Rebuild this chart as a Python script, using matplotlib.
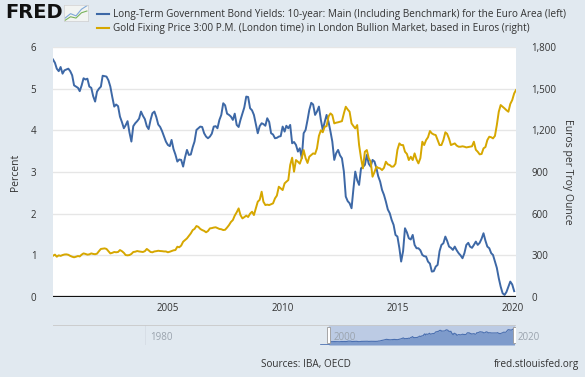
import numpy as np
import pandas as pd
import matplotlib
matplotlib.use("Agg")
import matplotlib.pyplot as plt
import matplotlib.dates as mdates
from matplotlib.patches import Rectangle

plt.rcParams['font.family'] = ['Open Sans', 'DejaVu Sans']

# monthly values, Jan 2000 .. Feb 2020 (yields) / Mar 2020 (gold)
bond_yield = [
    5.70, 5.62, 5.48, 5.42, 5.52, 5.36, 5.44, 5.46, 5.48, 5.42, 5.32, 5.08,  # 2000
    5.05, 5.02, 4.94, 5.08, 5.25, 5.22, 5.24, 5.05, 5.02, 4.82, 4.69, 4.93,  # 2001
    5.00, 5.05, 5.31, 5.30, 5.29, 5.20, 5.05, 4.80, 4.57, 4.62, 4.58, 4.33,  # 2002
    4.20, 4.05, 4.12, 4.22, 3.95, 3.73, 4.10, 4.17, 4.22, 4.28, 4.45, 4.35,  # 2003
    4.27, 4.10, 4.03, 4.25, 4.41, 4.45, 4.32, 4.14, 4.08, 3.98, 3.85, 3.73,  # 2004
    3.65, 3.62, 3.77, 3.55, 3.42, 3.25, 3.30, 3.29, 3.13, 3.35, 3.53, 3.41,  # 2005
    3.42, 3.60, 3.73, 4.01, 4.05, 4.09, 4.08, 3.93, 3.85, 3.81, 3.85, 3.92,  # 2006
    4.09, 4.10, 4.05, 4.25, 4.37, 4.65, 4.60, 4.40, 4.37, 4.33, 4.25, 4.40,  # 2007
    4.13, 4.08, 4.25, 4.40, 4.55, 4.81, 4.80, 4.53, 4.48, 4.37, 4.15, 3.93,  # 2008
    4.10, 4.17, 4.15, 4.11, 4.29, 4.20, 3.93, 3.90, 3.81, 3.82, 3.85, 3.86,  # 2009
    4.09, 3.97, 4.11, 4.05, 4.13, 3.69, 3.72, 3.65, 3.49, 3.57, 3.33, 3.93,  # 2010
    4.01, 4.25, 4.49, 4.66, 4.62, 4.37, 4.45, 4.57, 4.25, 4.01, 4.20, 4.37,  # 2011
    4.20, 3.97, 3.73, 3.29, 3.45, 3.53, 3.40, 3.33, 3.01, 2.41, 2.30, 2.25,  # 2012
    2.13, 2.61, 3.01, 2.80, 2.69, 3.09, 3.12, 3.17, 3.41, 3.20, 3.13, 3.29,  # 2013
    3.25, 3.09, 2.90, 2.77, 2.57, 2.45, 2.29, 2.10, 2.01, 1.85, 1.73, 1.49,  # 2014
    1.45, 1.17, 0.85, 1.10, 1.65, 1.55, 1.41, 1.38, 1.49, 1.25, 1.17, 1.17,  # 2015
    1.12, 1.01, 0.98, 0.97, 0.85, 0.80, 0.61, 0.62, 0.73, 0.77, 1.10, 1.25,  # 2016
    1.29, 1.45, 1.35, 1.21, 1.18, 1.13, 1.21, 1.12, 1.05, 1.00, 0.93, 1.05,  # 2017
    1.25, 1.30, 1.21, 1.18, 1.25, 1.33, 1.25, 1.30, 1.40, 1.53, 1.35, 1.21,  # 2018
    1.17, 1.05, 1.01, 0.85, 0.70, 0.45, 0.25, 0.09, 0.05, 0.12, 0.25, 0.37,  # 2019
    0.30, 0.14,                                                              # 2020
]

gold_eur = [
    297, 305, 290, 300, 296, 302, 306, 307, 304, 296, 290, 286,  # 2000
    290, 295, 292, 305, 314, 310, 305, 307, 314, 310, 308, 312,  # 2001
    330, 346, 348, 350, 346, 330, 314, 318, 324, 322, 324, 338,  # 2002
    330, 318, 302, 300, 302, 310, 324, 326, 331, 328, 326, 324,  # 2003
    330, 346, 336, 324, 322, 328, 330, 333, 331, 330, 328, 328,  # 2004
    322, 326, 331, 336, 338, 362, 358, 370, 398, 410, 422, 440,  # 2005
    458, 482, 490, 511, 505, 490, 482, 476, 466, 475, 494, 496,  # 2006
    500, 502, 496, 490, 488, 482, 484, 500, 518, 540, 554, 586,  # 2007
    610, 638, 590, 566, 575, 586, 576, 600, 614, 590, 638, 686,  # 2008
    700, 758, 686, 662, 665, 662, 668, 674, 710, 730, 794, 782,  # 2009
    770, 818, 830, 842, 950, 1003, 902, 986, 974, 960, 1000, 1058,  # 2010
    1000, 965, 1010, 1022, 1034, 1030, 1070, 1160, 1200, 1186, 1226, 1230,  # 2011
    1300, 1322, 1310, 1250, 1255, 1258, 1262, 1266, 1322, 1370, 1350, 1334,  # 2012
    1250, 1230, 1214, 1238, 1094, 1000, 926, 1046, 1058, 1000, 974, 866,  # 2013
    900, 938, 930, 926, 914, 930, 974, 955, 950, 938, 940, 960,  # 2014
    1060, 1106, 1094, 1094, 1046, 1030, 986, 1010, 986, 1034, 990, 962,  # 2015
    1000, 1118, 1094, 1130, 1150, 1195, 1178, 1170, 1166, 1130, 1094, 1094,  # 2016
    1130, 1186, 1175, 1140, 1094, 1100, 1106, 1090, 1082, 1082, 1085, 1082,  # 2017
    1077, 1080, 1082, 1085, 1118, 1060, 1046, 1027, 1030, 1070, 1080, 1130,  # 2018
    1154, 1150, 1142, 1160, 1238, 1334, 1382, 1370, 1358, 1345, 1334, 1390,  # 2019
    1418, 1466, 1490,  # 2020
]

y_ticks = [0, 1, 2, 3, 4, 5, 6]
y2_ticks = [0, 300, 600, 900, 1200, 1500, 1800]
x_tick_years = [2005, 2010, 2015, 2020]
nav_years = [1980, 2000, 2020]

legend_labels = [
    "Long-Term Government Bond Yields: 10-year: Main (Including Benchmark) for the Euro Area (left)",
    "Gold Fixing Price 3:00 P.M. (London time) in London Bullion Market, based in Euros (right)",
]

dates_b = pd.date_range("2000-01-01", periods=len(bond_yield), freq="MS")
dates_g = pd.date_range("2000-01-01", periods=len(gold_eur), freq="MS")

bg = "#e1e9f0"
blue = "#3d68a6"
gold = "#d6a700"
txt = "#333333"

W, H = 585, 377
fig = plt.figure(figsize=(W / 100, H / 100), dpi=100)
fig.patch.set_facecolor(bg)

def box(x0, y0, x1, y1):
    # pixel box (top-left origin) -> figure fraction rect
    return [x0 / W, 1 - y1 / H, (x1 - x0) / W, (y1 - y0) / H]

ax = fig.add_axes(box(53, 47, 516, 297))
ax.set_facecolor("white")
ax2 = ax.twinx()

ax.plot(dates_b, bond_yield, color=blue, lw=1.4, zorder=3)
ax2.plot(dates_g, gold_eur, color=gold, lw=1.4, zorder=3)

xmin, xmax = pd.Timestamp("2000-01-01"), pd.Timestamp("2020-03-01")
ax.set_xlim(xmin, xmax)
ax.set_ylim(0, 6)
ax2.set_ylim(0, 1800)
ax.set_yticks(y_ticks)
ax2.set_yticks(y2_ticks)
ax2.set_yticklabels([f"{v:,}" for v in y2_ticks])
ax.set_xticks([pd.Timestamp(f"{y}-01-01") for y in x_tick_years])
ax.xaxis.set_major_formatter(mdates.DateFormatter("%Y"))

ax.grid(axis="y", color="#e6e6e6", lw=1)
ax.set_axisbelow(True)
for a in (ax, ax2):
    for s in a.spines.values():
        s.set_visible(False)
    a.tick_params(length=0, labelsize=7, colors=txt)
ax.tick_params(axis="y", pad=12)
ax2.tick_params(axis="y", pad=11)
ax.tick_params(axis="x", pad=4)
ax.axhline(0, color="#111111", lw=1.6, zorder=4)

ax.set_ylabel("Percent", fontsize=7.5, color=txt, labelpad=7)
ax2.set_ylabel("Euros per Troy Ounce", fontsize=7.5, color=txt, rotation=270,
               labelpad=12)

# header: FRED logo + legend
fig.text(5 / W, 1 - 13 / H, "FRED", fontsize=14, fontweight="black",
         color="#111111", va="center", ha="left", family="DejaVu Sans")
logo = fig.add_axes(box(64, 5, 88, 21))
logo.set_facecolor("#f2f4f2")
logo.plot([0, 1, 2, 3, 4], [1, 2, 1.5, 3, 3.8], color="#7fa8d8", lw=0.8)
logo.plot([0, 1, 2, 3, 4], [0.5, 1.3, 1.0, 2.2, 2.6], color="#79b35c", lw=0.8)
logo.set_xticks([])
logo.set_yticks([])
for s in logo.spines.values():
    s.set_color("#d0d0d0")
    s.set_linewidth(0.5)

for i, (lab, col) in enumerate(zip(legend_labels, [blue, gold])):
    yy = 1 - (14 + i * 14) / H
    fig.add_artist(plt.Line2D([97 / W, 109 / W], [yy, yy], color=col, lw=1.5))
    fig.text(113 / W, yy, lab, fontsize=7.2, color=txt, va="center", ha="left")

# navigator
nav = fig.add_axes(box(53, 325, 516, 345))
nav.set_facecolor(bg)
nav.set_xlim(pd.Timestamp("1970-01-01"), pd.Timestamp("2020-05-01"))
nav.set_ylim(0, 1800)
nav.axvspan(xmin, xmax, color="#bccbe4", zorder=1)
nav.fill_between(dates_g, 0, gold_eur, color="#7e9bcb", lw=0, zorder=2)
nav.plot(dates_g, gold_eur, color="#4a6fb0", lw=0.8, zorder=3)
nav.plot([pd.Timestamp("1999-03-01"), xmin], [40, 40], color="#4a6fb0",
         lw=1.2, zorder=3)
nav.set_xticks([])
nav.set_yticks([])
for s in nav.spines.values():
    s.set_visible(False)
nav.axhline(1800, color="#c8c8c8", lw=1.2, zorder=4)
for y in nav_years:
    t = pd.Timestamp(f"{y}-01-01")
    nav.axvline(t, color="#d6dde5", lw=0.6, zorder=0)
    nav.text(t + pd.Timedelta(days=200), 650, str(y), fontsize=7, color="#9aa3ad",
             va="center", ha="left", zorder=5)
for t in (xmin, xmax):
    nav.add_patch(Rectangle((mdates.date2num(t) - 60, 220), 120, 1400,
                            facecolor="white", edgecolor="#999999", lw=0.6,
                            zorder=6))

fig.text(306 / W, 1 - 364 / H, "Sources: IBA, OECD", fontsize=7.2, color=txt,
         ha="center", va="center")
fig.text(579 / W, 1 - 364 / H, "fred.stlouisfed.org", fontsize=7.2, color=txt,
         ha="right", va="center")

fig.savefig("out.png", dpi=100, facecolor=bg)
